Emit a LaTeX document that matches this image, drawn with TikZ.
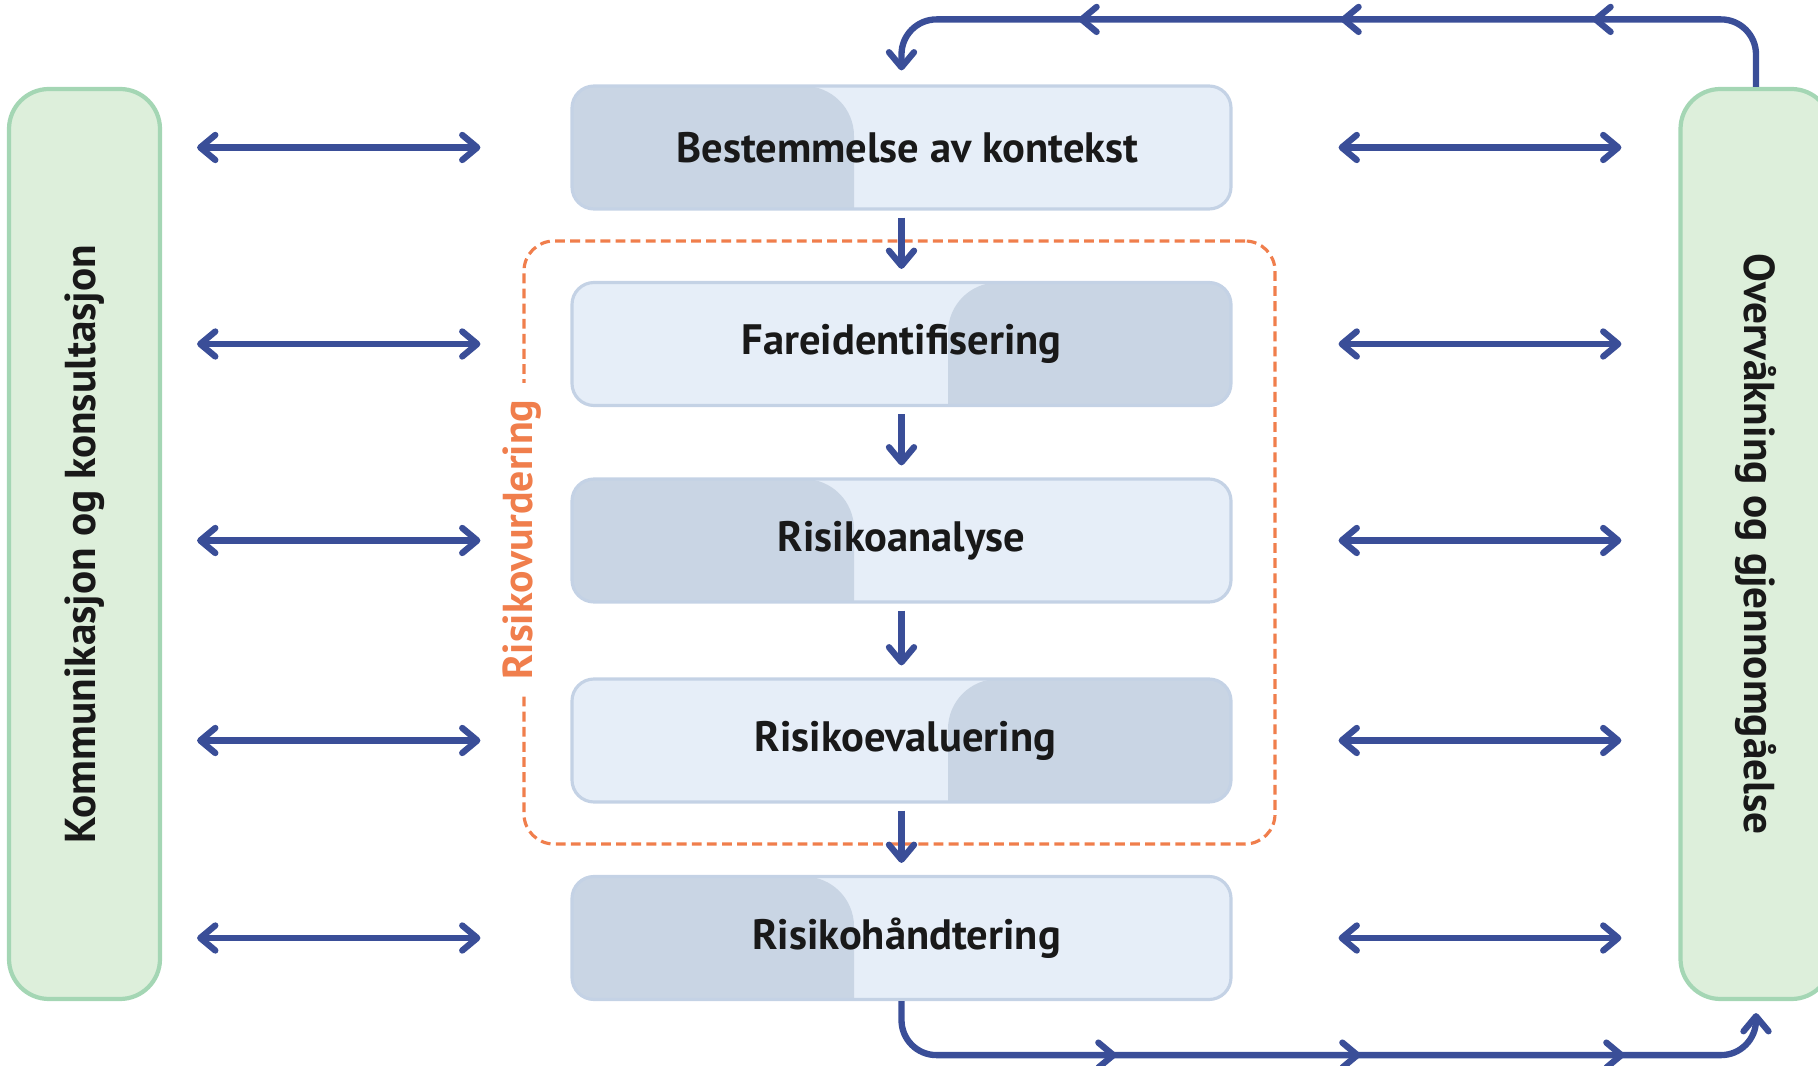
\documentclass[tikz,border=0pt]{standalone}
\usepackage{fontspec}
\setmainfont{PT Sans}
\usetikzlibrary{arrows.meta,calc,decorations.markings}

\definecolor{flowblue}{RGB}{58,78,152}
\definecolor{stagelight}{RGB}{230,238,248}
\definecolor{stagedark}{RGB}{201,213,228}
\definecolor{stageedge}{RGB}{196,210,229}
\definecolor{sidefill}{RGB}{221,239,219}
\definecolor{sideedge}{RGB}{164,214,180}
\definecolor{riskorange}{RGB}{240,126,76}

\begin{document}
\begin{tikzpicture}[
>={Straight Barb[length=1.5mm,width=2.5mm,line cap=round,line join=round]},
line/.style={draw=flowblue,line width=1.8pt},
both/.style={line,<->},
down/.style={line,->,shorten <=0.07cm,shorten >=0.12cm},
stage/.style={draw=stageedge,line width=0.9pt,fill=stagelight,rounded corners=0.22cm,
  minimum width=6.59cm,minimum height=1.23cm,text=black!90,
  font=\fontsize{12.1}{15}\selectfont\bfseries},
darkleft/.style={path picture={\fill[stagedark,rounded corners=0.5cm]
  ([xshift=-1cm,yshift=-1cm]path picture bounding box.south west) rectangle
  ([xshift=2.82cm]path picture bounding box.north west);}},
darkright/.style={path picture={\fill[stagedark,rounded corners=0.5cm]
  ([xshift=-2.83cm]path picture bounding box.north east) rectangle
  ([xshift=1cm,yshift=-1cm]path picture bounding box.south east);}},
side/.style={draw=sideedge,line width=1.2pt,fill=sidefill,rounded corners=0.4cm,
  minimum width=9.1cm,minimum height=1.51cm,text=black!90,
  font=\fontsize{12.3}{15}\selectfont\bfseries},
riskframe/.style={draw=riskorange,line width=0.9pt,dash pattern=on 2.8pt off 1.5pt,
  rounded corners=0.3cm,minimum width=7.51cm,minimum height=6.03cm},
risklabel/.style={fill=white,text=riskorange,inner xsep=0.17cm,inner ysep=1pt,
  font=\fontsize{11.9}{14}\selectfont\bfseries},
]

\clip (0,0) rectangle (18.18,-10.66);

%process
\node[stage,darkleft] (b1) at (9.015,-1.475) {\hspace{0.12cm}Bestemmelse av kontekst};
\node[stage,darkright] (b2) at (9.015,-3.44) {Fareidentifisering};
\node[stage,darkleft] (b3) at (9.015,-5.405) {Risikoanalyse};
\node[stage,darkright] (b4) at (9.015,-7.405) {\hspace{0.08cm}Risikoevaluering};
\node[stage,darkleft] (b5) at (9.015,-9.38) {\hspace{0.1cm}Risikohåndtering};

%sides (rotated, so south faces the middle)
\node[side,rotate=90] (kom) at (0.845,-5.44) {Kommunikasjon og konsultasjon};
\node[side,rotate=-90] (mon) at (17.56,-5.44) {Overvåkning og gjennomgåelse};

%assessment frame
\node[riskframe] (vurd) at (8.995,-5.425) {};
\node[risklabel,rotate=90] (vurdl) at ($(vurd.west)+(0,0.03)$) {Risikovurdering};

\path[down] (b1) -- (b2);
\path[down] (b2) -- (b3);
\path[down] (b3) -- (b4);
\path[down] (b4) -- (b5);

\path[both,shorten <=0.35cm,shorten >=0.9cm] (kom.south |- b1) -- (b1.west);
\path[both,shorten <=0.35cm,shorten >=0.9cm] (kom.south |- b2) -- (b2.west);
\path[both,shorten <=0.35cm,shorten >=0.9cm] (kom.south |- b3) -- (b3.west);
\path[both,shorten <=0.35cm,shorten >=0.9cm] (kom.south |- b4) -- (b4.west);
\path[both,shorten <=0.35cm,shorten >=0.9cm] (kom.south |- b5) -- (b5.west);

\path[both,shorten <=1.06cm,shorten >=0.57cm] (b1.east) -- (mon.south |- b1);
\path[both,shorten <=1.06cm,shorten >=0.57cm] (b2.east) -- (mon.south |- b2);
\path[both,shorten <=1.06cm,shorten >=0.57cm] (b3.east) -- (mon.south |- b3);
\path[both,shorten <=1.06cm,shorten >=0.57cm] (b4.east) -- (mon.south |- b4);
\path[both,shorten <=1.06cm,shorten >=0.57cm] (b5.east) -- (mon.south |- b5);

%feedback loops
\path[line,->,rounded corners=0.35cm,shorten >=0.14cm,
  postaction={decorate},decoration={markings,
  mark=at position 2.16cm with {\arrow{>}},
  mark=at position 4.68cm with {\arrow{>}},
  mark=at position 7.30cm with {\arrow{>}}}]
  (mon.west) |- ($(b1.north)+(0,0.65)$) -- (b1.north);
\path[line,->,rounded corners=0.35cm,shorten >=0.12cm,
  postaction={decorate},decoration={markings,
  mark=at position 2.54cm with {\arrow{>}},
  mark=at position 4.98cm with {\arrow{>}},
  mark=at position 7.62cm with {\arrow{>}}}]
  (b5.south) |- ($(mon.east)+(0,-0.54)$) -- (mon.east);

\end{tikzpicture}
\end{document}
